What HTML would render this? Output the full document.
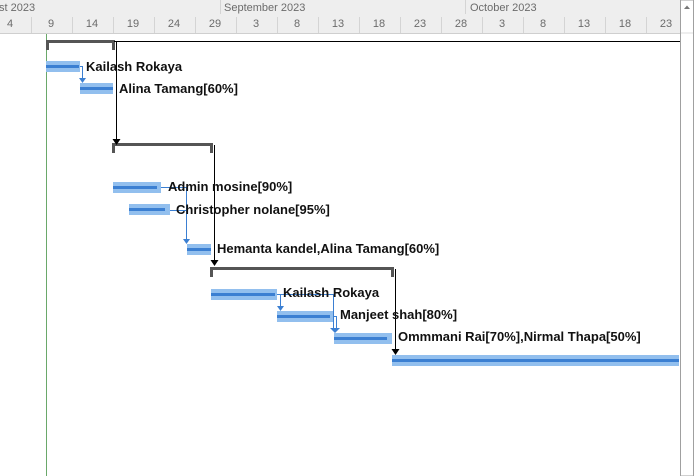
<!DOCTYPE html>
<html><head><style>
body{margin:0;background:#fff;}
svg{display:block;font-family:"Liberation Sans",Tahoma,sans-serif;}
.h{fill:#6b6b6b;font-size:11px;}
.l{font-size:13px;font-weight:bold;fill:#111;}
</style></head><body>
<svg width="696" height="476" viewBox="0 0 696 476">
<rect x="0" y="0" width="680" height="33" fill="#eeeeee"/>
<line x1="0" y1="33.5" x2="680" y2="33.5" stroke="#cfcfcf"/>
<g stroke="#d4d4d4">
<line x1="220.5" y1="0" x2="220.5" y2="14"/><line x1="465.5" y1="0" x2="465.5" y2="14"/>
<line x1="31.5" y1="17" x2="31.5" y2="33"/><line x1="72.5" y1="17" x2="72.5" y2="33"/><line x1="113.5" y1="17" x2="113.5" y2="33"/><line x1="154.5" y1="17" x2="154.5" y2="33"/><line x1="195.5" y1="17" x2="195.5" y2="33"/><line x1="236.5" y1="17" x2="236.5" y2="33"/><line x1="277.5" y1="17" x2="277.5" y2="33"/><line x1="318.5" y1="17" x2="318.5" y2="33"/><line x1="359.5" y1="17" x2="359.5" y2="33"/><line x1="400.5" y1="17" x2="400.5" y2="33"/><line x1="441.5" y1="17" x2="441.5" y2="33"/><line x1="482.5" y1="17" x2="482.5" y2="33"/><line x1="523.5" y1="17" x2="523.5" y2="33"/><line x1="564.5" y1="17" x2="564.5" y2="33"/><line x1="605.5" y1="17" x2="605.5" y2="33"/><line x1="646.5" y1="17" x2="646.5" y2="33"/>
</g>
<text class="h" x="-1" y="11">st 2023</text>
<text class="h" x="224" y="11">September 2023</text>
<text class="h" x="470" y="11">October 2023</text>
<g class="h" text-anchor="middle">
<text x="10" y="27">4</text><text x="51" y="27">9</text><text x="92" y="27">14</text><text x="133" y="27">19</text><text x="174" y="27">24</text><text x="215" y="27">29</text><text x="256" y="27">3</text><text x="297" y="27">8</text><text x="338" y="27">13</text><text x="379" y="27">18</text><text x="420" y="27">23</text><text x="461" y="27">28</text><text x="502" y="27">3</text><text x="543" y="27">8</text><text x="584" y="27">13</text><text x="625" y="27">18</text><text x="666" y="27">23</text>
</g>
<rect x="680.5" y="0" width="13" height="476" fill="#fff" stroke="#a0a0a0"/>
<path d="M684 9 L687 5.5 L690 9 Z" fill="#777"/>
<line x1="681" y1="33" x2="693" y2="33" stroke="#ddd"/>
<line x1="46.5" y1="34" x2="46.5" y2="476" stroke="#6aa86a"/>
<g fill="#555">
<rect x="46" y="40" width="69" height="3"/><rect x="46" y="40" width="3" height="10"/><rect x="112" y="40" width="3" height="10"/>
<rect x="112" y="143" width="101" height="3"/><rect x="112" y="143" width="3" height="10"/><rect x="210" y="143" width="3" height="10"/>
<rect x="210" y="267" width="184" height="3"/><rect x="210" y="267" width="3" height="10"/><rect x="391" y="267" width="3" height="10"/>
</g>
<g stroke="#000" fill="none" stroke-width="1">
<path d="M114 41.5 H680"/>
<path d="M116.5 42 V140"/>
<path d="M214.5 145 V264"/>
<path d="M395.5 269 V352"/>
</g>
<g fill="#000">
<path d="M112.5 139 L120.5 139 L116.5 145 Z"/>
<path d="M210.5 260 L218.5 260 L214.5 266 Z"/>
<path d="M391.5 349 L399.5 349 L395.5 355 Z"/>
</g>
<g fill="#92bfee">
<rect x="46" y="61" width="34" height="11"/>
<rect x="80" y="83" width="33" height="11"/>
<rect x="113" y="182" width="48" height="11"/>
<rect x="129" y="204" width="41" height="11"/>
<rect x="187" y="244" width="24" height="11"/>
<rect x="211" y="289" width="66" height="11"/>
<rect x="277" y="311" width="56" height="11"/>
<rect x="334" y="333" width="58" height="11"/>
<rect x="392" y="355" width="287" height="11"/>
</g>
<g fill="#3b7fd2">
<rect x="46" y="65" width="33" height="3"/>
<rect x="80" y="87" width="33" height="3"/>
<rect x="113" y="186" width="44" height="3"/>
<rect x="129" y="208" width="36" height="3"/>
<rect x="187" y="248" width="24" height="3"/>
<rect x="211" y="293" width="64" height="3"/>
<rect x="277" y="315" width="53" height="3"/>
<rect x="334" y="337" width="53" height="3"/>
<rect x="392" y="359" width="287" height="3"/>
</g>
<g stroke="#3b7fd2" fill="none">
<path d="M80 66.5 H82.5 V78"/>
<path d="M161 187.5 H186.5 V239"/>
<path d="M170 210.5 H186.5"/>
<path d="M277 294.5 H333.5 V328"/>
<path d="M280.5 294.5 V306"/>
<path d="M333 316.5 H336.5 V328"/>
</g>
<g fill="#3b7fd2">
<path d="M79 78 L86 78 L82.5 83 Z"/>
<path d="M183 239 L190 239 L186.5 244 Z"/>
<path d="M277 306 L284 306 L280.5 311 Z"/>
<path d="M330 328 L340 328 L335 333 Z"/>
</g>
<g class="l">
<text x="86" y="71">Kailash Rokaya</text>
<text x="119" y="93">Alina Tamang[60%]</text>
<text x="168" y="191">Admin mosine[90%]</text>
<text x="176" y="214">Christopher nolane[95%]</text>
<text x="217" y="253">Hemanta kandel,Alina Tamang[60%]</text>
<text x="283" y="297">Kailash Rokaya</text>
<text x="340" y="319">Manjeet shah[80%]</text>
<text x="398" y="341">Ommmani Rai[70%],Nirmal Thapa[50%]</text>
</g>
</svg>
</body></html>
